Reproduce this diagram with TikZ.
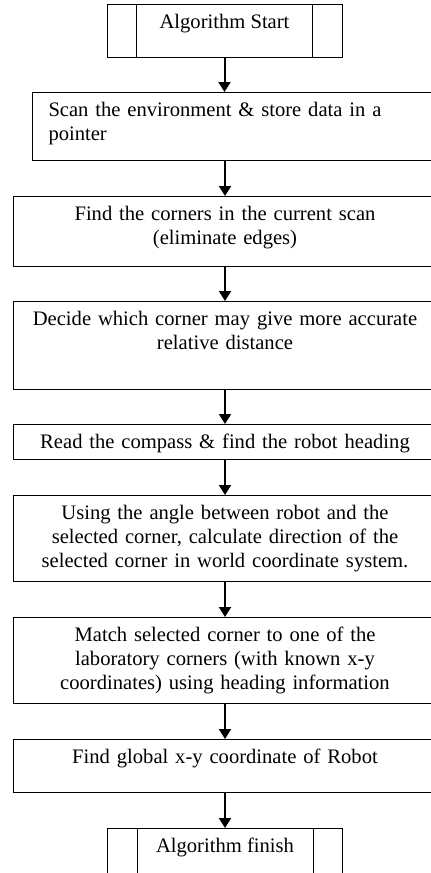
\documentclass[tikz,border=0pt]{standalone}
\usepackage{fontspec}
\setmainfont{Liberation Serif}
\usetikzlibrary{positioning,arrows.meta}

\tikzset{
  box/.style={draw, line width=1pt, anchor=north, inner xsep=6pt, inner ysep=0pt,
    text height=24pt, font=\fontsize{20.6}{24}\selectfont},
  stepbox/.style={box, text width=412pt, align=center},
  endbox/.style={box, minimum width=235pt, text depth=29pt},
  flow/.style={line width=2pt, -{Triangle[width=12pt,length=10pt]}}
}

\begin{document}
\begin{tikzpicture}[x=1pt, y=-1pt, node distance=35pt]
  \useasboundingbox (0,0) rectangle (431,873);
  \clip (0,0) rectangle (431,873);

  % terminals and steps
  \node[endbox] (start) at (224.5,4) {Algorithm Start};
  \node[box, anchor=north west, inner xsep=16pt, text width=470pt, align=left, text depth=44pt]
    (scan) at (32,92) {Scan the environment \& store data in a\\pointer};
  \node[stepbox, text depth=46pt] (corners) at (225,196)
    {Find the corners in the current scan\\(eliminate edges)};
  \node[stepbox, text depth=64pt, below=34pt of corners] (decide)
    {Decide which corner may give more accurate\\relative distance};
  \node[stepbox, text depth=11pt, below=34pt of decide] (compass)
    {Read the compass \& find the robot heading};
  \node[stepbox, text depth=62pt, below=of compass] (direction)
    {Using the angle between robot and the\\selected corner, calculate direction of the\\selected corner in world coordinate system.};
  \node[stepbox, text depth=62pt, below=of direction] (match)
    {Match selected corner to one of the\\laboratory corners (with known x-y\\coordinates) using heading information};
  \node[stepbox, text depth=29pt, below=of match] (locate)
    {Find global x-y coordinate of Robot};
  \node[endbox, below=of locate] (finish) {Algorithm finish};

  % side bars of start/finish
  \foreach \n in {start,finish} {
    \draw[line width=1pt] ([xshift=30pt]\n.north west) -- ([xshift=30pt]\n.south west);
    \draw[line width=1pt] ([xshift=-30pt]\n.north east) -- ([xshift=-30pt]\n.south east);
  }

  % arrows
  \draw[flow] (start.south) -- (start.south |- scan.north);
  \draw[flow] (scan.south -| corners.north) -- (corners.north);
  \draw[flow] (corners) -- (decide);
  \draw[flow] (decide) -- (compass);
  \draw[flow] (compass) -- (direction);
  \draw[flow] (direction) -- (match);
  \draw[flow] (match) -- (locate);
  \draw[flow] (locate) -- (finish);
\end{tikzpicture}
\end{document}
